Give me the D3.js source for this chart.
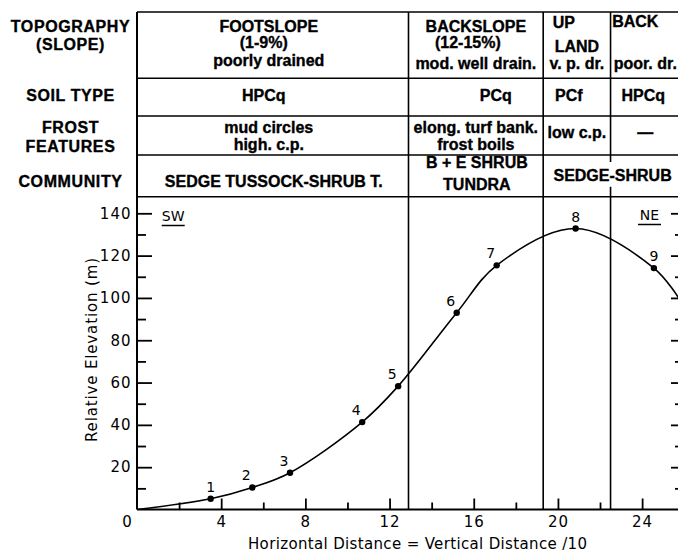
<!DOCTYPE html>
<html>
<head>
<meta charset="utf-8">
<script src="https://cdn.jsdelivr.net/npm/d3@7"></script>
<style>
  html, body { margin: 0; padding: 0; background: #fff; }
  svg { display: block; }
  .tbl { font-family: "Liberation Sans", Arial, sans-serif; font-weight: bold; font-size: 16px; fill: #000; stroke: #000; stroke-width: 0.35px; }
  .tick-lbl { font-family: "DejaVu Sans", sans-serif; font-size: 15px; fill: #000; }
</style>
</head>
<body>
<div id="chart"></div>
<script>
// ---------------- DATA ----------------
const stationNo   = ["1", "2", "3", "4", "5", "6", "7", "8", "9"];
const stationDist = [3.5, 5.48, 7.27, 10.7, 12.41, 15.19, 17.09, 20.84, 24.56];
const stationElev = [5.1, 10.4, 17.4, 41.3, 58.3, 93.0, 115.4, 132.8, 114.1];
const profileStart = [0, 0];
const profileEnd   = [25.8, 99];

const zoneBounds = [12.9, 19.3, 22.5];          // vertical dividers (horizontal distance)
const xTicksMajor = [0, 4, 8, 12, 16, 20, 24];
const xTicksMinor = [2, 6, 10, 14, 18, 22];
const yTicksMajor = [20, 40, 60, 80, 100, 120, 140];
const yTicksMinor = [10, 30, 50, 70, 90, 110, 130];

const rowLabels = [["TOPOGRAPHY", "(SLOPE)"], ["SOIL TYPE"], ["FROST", "FEATURES"], ["COMMUNITY"]];
const topography = [
  ["FOOTSLOPE", "(1-9%)", "poorly drained"],
  ["BACKSLOPE", "(12-15%)", "mod. well drain."],
  ["UP", "LAND", "v. p. dr."],
  ["BACK", "", "poor. dr."]
];
const soilType = ["HPCq", "PCq", "PCf", "HPCq"];
const frostFeatures = [["mud circles", "high. c.p."], ["elong. turf bank.", "frost boils"], ["low c.p."], ["—"]];
const communityText = [["SEDGE TUSSOCK-SHRUB T."], ["B + E SHRUB", "TUNDRA"], ["SEDGE-SHRUB"]];
const communitySpan = [[0, 1], [1, 2], [2, 4]];
const directions = ["SW", "NE"];
const xTitle = "Horizontal Distance = Vertical Distance /10";
const yTitle = "Relative Elevation (m)";

// ---------------- LAYOUT ----------------
const W = 678, H = 552;
const svg = d3.select("#chart").append("svg").attr("width", W).attr("height", H);

const x = d3.scaleLinear().domain([0, 25.8]).range([137, 680]);
const y = d3.scaleLinear().domain([0, 140]).range([509.5, 213.3]);

const rowEdges = [12, 78.3, 116, 155, 196.7];
const colEdges = [0, ...zoneBounds, 25.8].map(x);
const colCenter = i => (colEdges[i] + colEdges[i + 1]) / 2;
const labelX = 70.5;

// small per-text nudges observed in the original lettering
const nudge = { "PCq": 20, "UP": -13, "BACK": -10, "(12-15%)": -8, "(1-9%)": -5, "PCf": -8, "HPCq": -2 };

const tbl = svg.append("g");

// table frame lines
tbl.append("line").attr("x1", x(0)).attr("x2", W + 5).attr("y1", rowEdges[0]).attr("y2", rowEdges[0])
  .attr("stroke", "#000").attr("stroke-width", 1.6);
rowEdges.slice(1).forEach(ry => {
  tbl.append("line").attr("x1", x(0)).attr("x2", W + 5).attr("y1", ry).attr("y2", ry)
    .attr("stroke", "#000").attr("stroke-width", 1.4);
});

// vertical dividers (through table and plot)
zoneBounds.forEach((b, i) => {
  const xx = x(b);
  if (i === 2) {
    // interrupted by the SEDGE-SHRUB label in the community row
    svg.append("line").attr("x1", xx).attr("x2", xx).attr("y1", rowEdges[0]).attr("y2", rowEdges[3] + 7)
      .attr("stroke", "#000").attr("stroke-width", 1.6);
    svg.append("line").attr("x1", xx).attr("x2", xx).attr("y1", rowEdges[4] - 10).attr("y2", y(0))
      .attr("stroke", "#000").attr("stroke-width", 1.6);
  } else {
    svg.append("line").attr("x1", xx).attr("x2", xx).attr("y1", rowEdges[0]).attr("y2", y(0))
      .attr("stroke", "#000").attr("stroke-width", 1.6);
  }
});

// row labels
const rowLabelBase = [[32, 50], [101], [133, 152], [187]];
rowLabels.forEach((lines, r) => {
  lines.forEach((t, k) => {
    tbl.append("text").attr("class", "tbl").attr("x", labelX).attr("y", rowLabelBase[r][k])
      .attr("text-anchor", "middle").attr("letter-spacing", "0.6px").text(t);
  });
});

function cellText(t, cx, by) {
  if (!t) return;
  tbl.append("text").attr("class", "tbl").attr("x", cx + (nudge[t] || 0)).attr("y", by)
    .attr("text-anchor", "middle").text(t);
}

// topography row
const topoBase = [[32, 48, 66], [32, 48, 69], [28, 52, 69], [27, 48, 69]];
topography.forEach((lines, c) => {
  lines.forEach((t, k) => cellText(t, colCenter(c) + (c === 0 ? -4 : 0), topoBase[c][k]));
});
// soil row
soilType.forEach((t, c) => cellText(t, colCenter(c) + (c === 0 ? -7 : 0), 101));
// frost row
const frostBase = [[133, 150], [133, 150], [138], [138]];
frostFeatures.forEach((lines, c) => {
  lines.forEach((t, k) => cellText(t, colCenter(c) + (c === 0 ? -4 : 0), frostBase[c][k]));
});
// community row
const commBase = [[187], [168, 190], [181]];
communityText.forEach((lines, i) => {
  const [a, b] = communitySpan[i];
  const cx = (colEdges[a] + colEdges[b]) / 2 + (i === 0 ? 1 : 1);
  lines.forEach((t, k) => cellText(t, cx, commBase[i][k]));
});

// ---------------- AXES ----------------
const axes = svg.append("g");
// left axis line up to the table top
axes.append("line").attr("x1", x(0)).attr("x2", x(0)).attr("y1", rowEdges[0]).attr("y2", y(0))
  .attr("stroke", "#000").attr("stroke-width", 2);

function styleAxis(g) {
  g.select(".domain").remove();
  g.selectAll(".tick line").attr("stroke", "#000").attr("stroke-width", 1.8);
  g.selectAll(".tick text").attr("class", "tick-lbl").attr("letter-spacing", "1px");
}

// left axis, ticks pointing inward
axes.append("g").attr("transform", `translate(${x(0)},0)`)
  .call(d3.axisLeft(y).tickValues(yTicksMinor).tickSize(-9).tickFormat(""))
  .call(styleAxis);
axes.append("g").attr("transform", `translate(${x(0)},0)`)
  .call(d3.axisLeft(y).tickValues(yTicksMajor).tickSize(-15).tickPadding(5.5).tickFormat(d3.format("d")))
  .call(styleAxis);

// right axis (mostly beyond frame)
axes.append("g").attr("transform", `translate(${x(25.8)},0)`)
  .call(d3.axisRight(y).tickValues(yTicksMinor).tickSize(-5).tickFormat(""))
  .call(styleAxis);
axes.append("g").attr("transform", `translate(${x(25.8)},0)`)
  .call(d3.axisRight(y).tickValues(yTicksMajor).tickSize(-9).tickFormat(""))
  .call(styleAxis);

// bottom axis
axes.append("line").attr("x1", x(0)).attr("x2", W + 5).attr("y1", y(0)).attr("y2", y(0))
  .attr("stroke", "#000").attr("stroke-width", 2);
axes.append("g").attr("transform", `translate(0,${y(0)})`)
  .call(d3.axisBottom(x).tickValues(xTicksMinor).tickSize(-7).tickFormat(""))
  .call(styleAxis);
const xb = axes.append("g").attr("transform", `translate(0,${y(0)})`)
  .call(d3.axisBottom(x).tickValues(xTicksMajor).tickSize(-11).tickPadding(7).tickFormat(d3.format("d")))
  .call(styleAxis);
xb.selectAll(".tick").filter(d => d === 0).select("line").remove();
xb.selectAll(".tick").filter(d => d === 0).select("text").attr("dx", -10);

// axis titles
axes.append("text").attr("class", "tick-lbl").attr("x", 417.5).attr("y", 549)
  .attr("text-anchor", "middle").attr("textLength", 339).attr("lengthAdjust", "spacing")
  .style("font-size", "15px").text(xTitle);
axes.append("text").attr("class", "tick-lbl")
  .attr("transform", "translate(97,350) rotate(-90)")
  .attr("text-anchor", "middle").attr("textLength", 184).attr("lengthAdjust", "spacing")
  .style("font-size", "15px").text(yTitle);

// direction labels
const dirPos = [[x(1.72), 221], [x(24.35), 220]];
directions.forEach((d, i) => {
  const t = axes.append("text").attr("class", "tick-lbl").attr("x", dirPos[i][0]).attr("y", dirPos[i][1])
    .attr("text-anchor", "middle").style("font-size", "14px").text(d);
  axes.append("line").attr("x1", dirPos[i][0] - 11.5).attr("x2", dirPos[i][0] + 11.5)
    .attr("y1", dirPos[i][1] + 4.5).attr("y2", dirPos[i][1] + 4.5)
    .attr("stroke", "#000").attr("stroke-width", 1.5);
});

// ---------------- PROFILE ----------------
const stations = stationNo.map((n, i) => ({ n, d: stationDist[i], e: stationElev[i] }));
const profile = [profileStart, ...stations.map(s => [s.d, s.e]), profileEnd];

svg.append("defs").append("clipPath").attr("id", "clip")
  .append("rect").attr("x", x(0)).attr("y", rowEdges[4]).attr("width", W).attr("height", y(0) - rowEdges[4]);

svg.append("path").attr("clip-path", "url(#clip)")
  .datum(profile)
  .attr("fill", "none").attr("stroke", "#000").attr("stroke-width", 1.6)
  .attr("d", d3.line().x(p => x(p[0])).y(p => y(p[1])).curve(d3.curveCatmullRom.alpha(0.5)));

svg.append("g").selectAll("circle").data(stations).join("circle")
  .attr("cx", s => x(s.d)).attr("cy", s => y(s.e)).attr("r", 3.2).attr("fill", "#000");

svg.append("g").selectAll("text").data(stations).join("text")
  .attr("class", "tick-lbl")
  .attr("x", s => x(s.d) + (s.d < 20 && s.d > 4 ? -6 : 0))
  .attr("y", s => y(s.e) - 7)
  .attr("text-anchor", "middle").style("font-size", "14px")
  .text(s => s.n);
</script>
</body>
</html>
